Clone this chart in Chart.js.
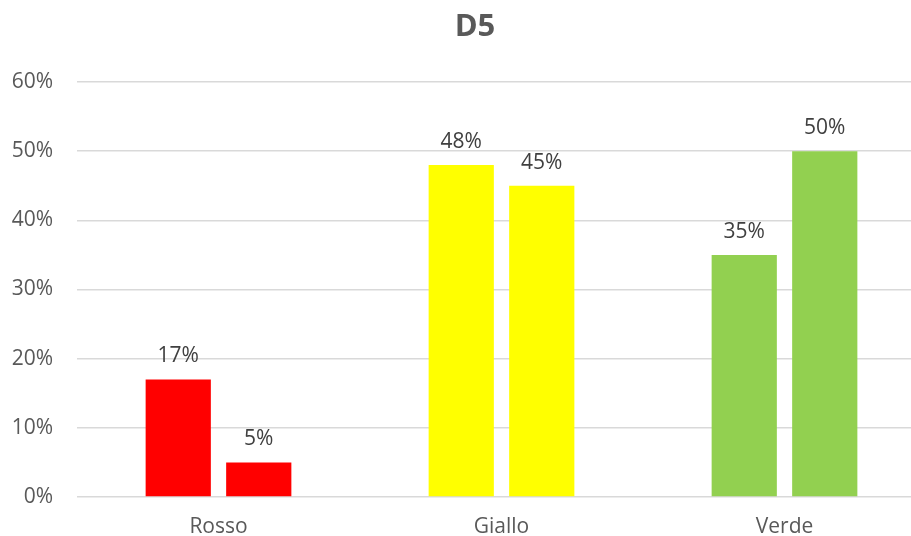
<!DOCTYPE html>
<html>
<head>
<meta charset="utf-8">
<script src="https://cdn.jsdelivr.net/npm/chart.js@4"></script>
<style>
  html, body { margin: 0; padding: 0; background: #fff; overflow: hidden; }
  /* plot runs a little past the right edge, as in the original crop */
  #wrap { width: 926px; height: 536px; }
</style>
</head>
<body>
<div id="wrap"><canvas id="c"></canvas></div>
<script>
const categories = ["Rosso", "Giallo", "Verde"];
const seriesA = [17, 48, 35];
const seriesB = [5, 45, 50];
const barColors = ["#FF0000", "#FFFF00", "#92D050"];
const yTicks = [0, 10, 20, 30, 40, 50, 60];
const chartTitle = "D5";

const FONT = "'Open Sans', sans-serif";

// value labels above each bar
const valueLabels = {
    id: "valueLabels",
    afterDatasetsDraw(chart) {
        const ctx = chart.ctx;
        ctx.save();
        ctx.font = "21px " + FONT;
        ctx.fillStyle = "#404040";
        ctx.textAlign = "center";
        ctx.textBaseline = "alphabetic";
        chart.data.datasets.forEach((ds, i) => {
            chart.getDatasetMeta(i).data.forEach((bar, j) => {
                ctx.fillText(ds.data[j] + "%", bar.x, bar.y - 17);
            });
        });
        ctx.restore();
    }
};

// title sits a bit right of the canvas centre, like the original
const offsetTitle = {
    id: "offsetTitle",
    afterDraw(chart) {
        const ctx = chart.ctx;
        ctx.save();
        ctx.font = "bold 31px " + FONT;
        ctx.fillStyle = "#595959";
        ctx.textAlign = "center";
        ctx.textBaseline = "middle";
        ctx.fillText(chartTitle, 475, 27);
        ctx.restore();
    }
};

new Chart(document.getElementById("c"), {
    type: "bar",
    data: {
        labels: categories,
        datasets: [
            { label: "A", data: seriesA, backgroundColor: barColors },
            { label: "B", data: seriesB, backgroundColor: barColors }
        ]
    },
    options: {
        responsive: true,
        maintainAspectRatio: false,
        animation: false,
        categoryPercentage: 0.569,
        barPercentage: 0.81,
        layout: { padding: { left: 0, right: 0, top: 82, bottom: 0 } },
        plugins: {
            legend: { display: false },
            tooltip: { enabled: false },
            title: { display: false }
        },
        scales: {
            x: {
                grid: { display: false, drawTicks: false },
                border: { display: false },
                afterFit(axis) { axis.height = 39; },
                ticks: {
                    color: "#595959",
                    font: { family: FONT, size: 21 },
                    padding: 17
                }
            },
            y: {
                min: 0,
                max: 60,
                afterFit(axis) { axis.width = 77; },
                afterBuildTicks(axis) {
                    axis.ticks = yTicks.map(v => ({ value: v }));
                },
                grid: { color: "#d9d9d9", lineWidth: 1.5, drawTicks: false },
                border: { display: false },
                ticks: {
                    color: "#595959",
                    font: { family: FONT, size: 21 },
                    padding: 24,
                    callback: v => v + "%"
                }
            }
        }
    },
    plugins: [valueLabels, offsetTitle]
});
</script>
</body>
</html>
